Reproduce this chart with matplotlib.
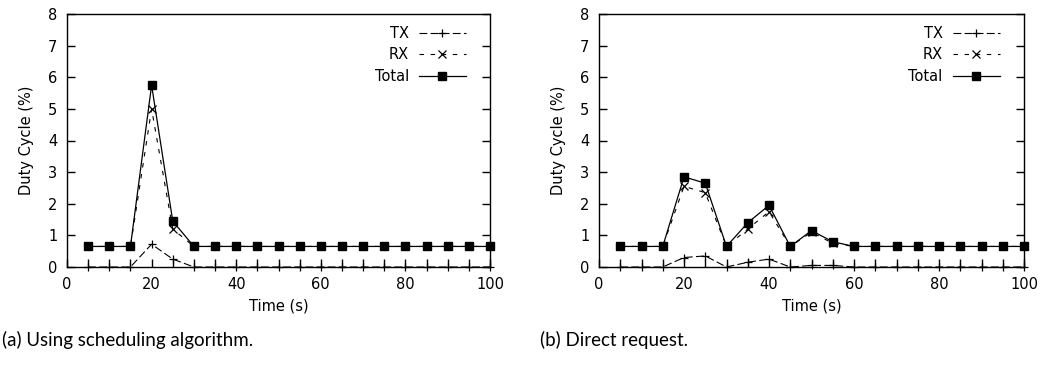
import numpy as np
import matplotlib.pyplot as plt
from matplotlib.ticker import MultipleLocator

plt.rcParams['font.family'] = ['DejaVu Sans']

time_s = [5, 10, 15, 20, 25, 30, 35, 40, 45, 50, 55, 60, 65, 70, 75, 80, 85, 90, 95, 100]

# (a) Using scheduling algorithm
tx_a = [0, 0, 0, 0.72, 0.25, 0, 0, 0, 0, 0, 0, 0, 0, 0, 0, 0, 0, 0, 0, 0]
rx_a = [0.65, 0.65, 0.65, 5.0, 1.2, 0.65, 0.65, 0.65, 0.65, 0.65, 0.65, 0.65, 0.65, 0.65,
        0.65, 0.65, 0.65, 0.65, 0.65, 0.65]
total_a = [0.65, 0.65, 0.65, 5.75, 1.45, 0.65, 0.65, 0.65, 0.65, 0.65, 0.65, 0.65, 0.65, 0.65,
           0.65, 0.65, 0.65, 0.65, 0.65, 0.65]

# (b) Direct request
tx_b = [0, 0, 0, 0.3, 0.35, 0, 0.15, 0.25, 0, 0.05, 0.05, 0, 0, 0, 0, 0, 0, 0, 0, 0]
rx_b = [0.65, 0.65, 0.65, 2.55, 2.35, 0.65, 1.2, 1.75, 0.65, 1.1, 0.75, 0.65, 0.65, 0.65,
        0.65, 0.65, 0.65, 0.65, 0.65, 0.65]
total_b = [0.65, 0.65, 0.65, 2.85, 2.65, 0.65, 1.4, 1.95, 0.65, 1.15, 0.8, 0.65, 0.65, 0.65,
           0.65, 0.65, 0.65, 0.65, 0.65, 0.65]

captions = ['(a) Using scheduling algorithm.', '(b) Direct request.']


def draw_panel(ax, tx, rx, total):
    ax.plot(time_s, tx, color='black', lw=0.8, dashes=(7, 3), marker='+', ms=6,
            mew=0.9, label='TX', clip_on=False, zorder=3)
    ax.plot(time_s, rx, color='black', lw=0.8, dashes=(4, 6), marker='x', ms=6,
            mew=0.9, label='RX', clip_on=False, zorder=3)
    ax.plot(time_s, total, color='black', lw=0.9, ls='-', marker='s', ms=6,
            label='Total', clip_on=False, zorder=4)
    ax.set_xlim(0, 100)
    ax.set_ylim(0, 8)
    ax.xaxis.set_major_locator(MultipleLocator(20))
    ax.xaxis.set_minor_locator(MultipleLocator(5))
    ax.yaxis.set_major_locator(MultipleLocator(1))
    ax.tick_params(which='both', direction='in', top=False, right=True,
                   labelsize=10.5, width=1.0)
    ax.tick_params(which='major', length=6, pad=7)
    ax.tick_params(which='minor', length=6)
    for sp in ax.spines.values():
        sp.set_linewidth(1.0)
    ax.set_xlabel('Time (s)', fontsize=10.5, labelpad=5)
    ax.set_ylabel('Duty Cycle (%)', fontsize=10.5, labelpad=10)
    leg = ax.legend(loc='upper right', bbox_to_anchor=(0.97, 1.0), frameon=False,
                    markerfirst=False, fontsize=10.5, handlelength=3.2,
                    handletextpad=0.7, labelspacing=0.45, borderaxespad=0.4)
    for t in leg.get_texts():
        t.set_ha('right')


fig = plt.figure(figsize=(10.41, 3.65), dpi=100)
ax_a = fig.add_axes([67 / 1041, 1 - 267 / 365, 423 / 1041, 253 / 365])
ax_b = fig.add_axes([599 / 1041, 1 - 267 / 365, 425 / 1041, 253 / 365])

draw_panel(ax_a, tx_a, rx_a, total_a)
draw_panel(ax_b, tx_b, rx_b, total_b)

fig.text(2 / 1041, 1 - 340 / 365, captions[0], fontsize=13.5,
         family='Lato', va='center', ha='left')
fig.text(540 / 1041, 1 - 340 / 365, captions[1], fontsize=13.5,
         family='Lato', va='center', ha='left')

fig.savefig('out.png', dpi=100)
